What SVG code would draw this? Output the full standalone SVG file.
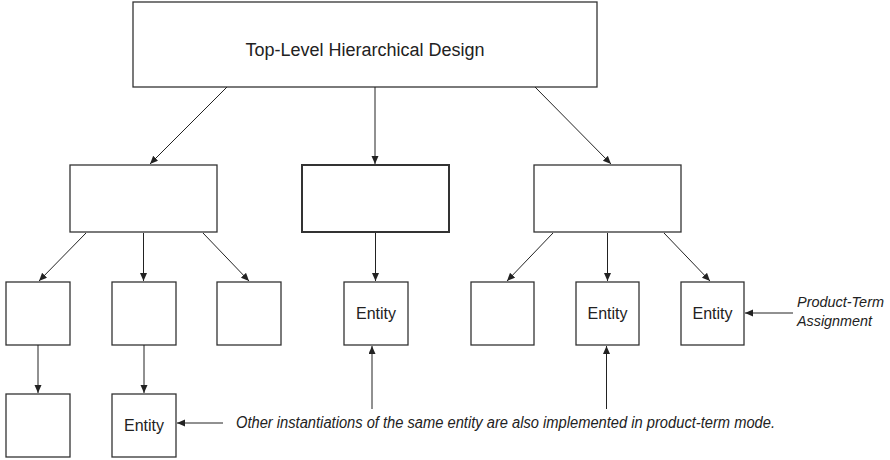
<svg xmlns="http://www.w3.org/2000/svg" width="890" height="460" viewBox="0 0 890 460">
<style>
.box{fill:#fff;stroke:#333;stroke-width:1.3}
.thick{stroke-width:2}
.lbl{font-family:"Liberation Sans",Arial,sans-serif;font-size:16px;fill:#222;text-anchor:middle}
.title{font-size:18px}
.note{font-family:"Liberation Sans",Arial,sans-serif;font-size:16px;font-style:italic;fill:#222}
.small{font-size:14.5px}
.c line{stroke:#222;stroke-width:1}
</style>
<defs>
<marker id="ah" markerUnits="userSpaceOnUse" markerWidth="10" markerHeight="8" refX="8" refY="3.5" orient="auto">
<path d="M0,0 L8,3.5 L0,7 z" fill="#222"/>
</marker>
</defs>
<rect width="890" height="460" fill="#fff"/>
<g id="top"><rect class="box" x="133" y="2" width="464" height="85"/><text class="lbl title" x="365" y="56">Top-Level Hierarchical Design</text></g>
<g id="midL"><rect class="box" x="70" y="165" width="147" height="67"/></g>
<g id="midC"><rect class="box thick" x="302" y="165" width="147" height="67"/></g>
<g id="midR"><rect class="box" x="534" y="165" width="147" height="67"/></g>
<g id="b1"><rect class="box" x="6" y="282" width="64" height="63"/></g>
<g id="b2"><rect class="box" x="112" y="282" width="64" height="63"/></g>
<g id="b3"><rect class="box" x="217" y="282" width="64" height="63"/></g>
<g id="e1"><rect class="box" x="344" y="282" width="64" height="63"/><text class="lbl" x="376" y="319">Entity</text></g>
<g id="b5"><rect class="box" x="471" y="282" width="63" height="63"/></g>
<g id="e2"><rect class="box" x="576" y="282" width="63" height="63"/><text class="lbl" x="607.5" y="319">Entity</text></g>
<g id="e3"><rect class="box" x="681" y="282" width="63" height="63"/><text class="lbl" x="712.5" y="319">Entity</text></g>
<g id="b8"><rect class="box" x="6" y="394" width="64" height="63"/></g>
<g id="e4"><rect class="box" x="112" y="394" width="64" height="63"/><text class="lbl" x="144" y="431">Entity</text></g>
<g id="notes">
<text class="note small" x="797" y="307" textLength="87" lengthAdjust="spacingAndGlyphs">Product-Term</text>
<text class="note small" x="797" y="326" textLength="75" lengthAdjust="spacingAndGlyphs">Assignment</text>
<text class="note" x="236" y="428" textLength="539" lengthAdjust="spacingAndGlyphs">Other instantiations of the same entity are also implemented in product-term mode.</text>
</g>
<g id="connectors" class="c">
<line x1="227" y1="87" x2="150" y2="164" marker-end="url(#ah)"/>
<line x1="375" y1="87" x2="375" y2="164" marker-end="url(#ah)"/>
<line x1="535" y1="87" x2="611" y2="164" marker-end="url(#ah)"/>
<line x1="86" y1="233" x2="39" y2="281" marker-end="url(#ah)"/>
<line x1="143.5" y1="233" x2="143.5" y2="281" marker-end="url(#ah)"/>
<line x1="203" y1="233" x2="249" y2="281" marker-end="url(#ah)"/>
<line x1="375.5" y1="233" x2="375.5" y2="281" marker-end="url(#ah)"/>
<line x1="553" y1="233" x2="507" y2="281" marker-end="url(#ah)"/>
<line x1="607.5" y1="233" x2="607.5" y2="281" marker-end="url(#ah)"/>
<line x1="664" y1="233" x2="710" y2="281" marker-end="url(#ah)"/>
<line x1="38" y1="345" x2="38" y2="393" marker-end="url(#ah)"/>
<line x1="144" y1="345" x2="144" y2="393" marker-end="url(#ah)"/>
<line x1="223" y1="423" x2="177" y2="423" marker-end="url(#ah)"/>
<line x1="372" y1="409" x2="372" y2="346" marker-end="url(#ah)"/>
<line x1="606.5" y1="409" x2="606.5" y2="346" marker-end="url(#ah)"/>
<line x1="793" y1="313" x2="745" y2="313" marker-end="url(#ah)"/>
</g>
</svg>
